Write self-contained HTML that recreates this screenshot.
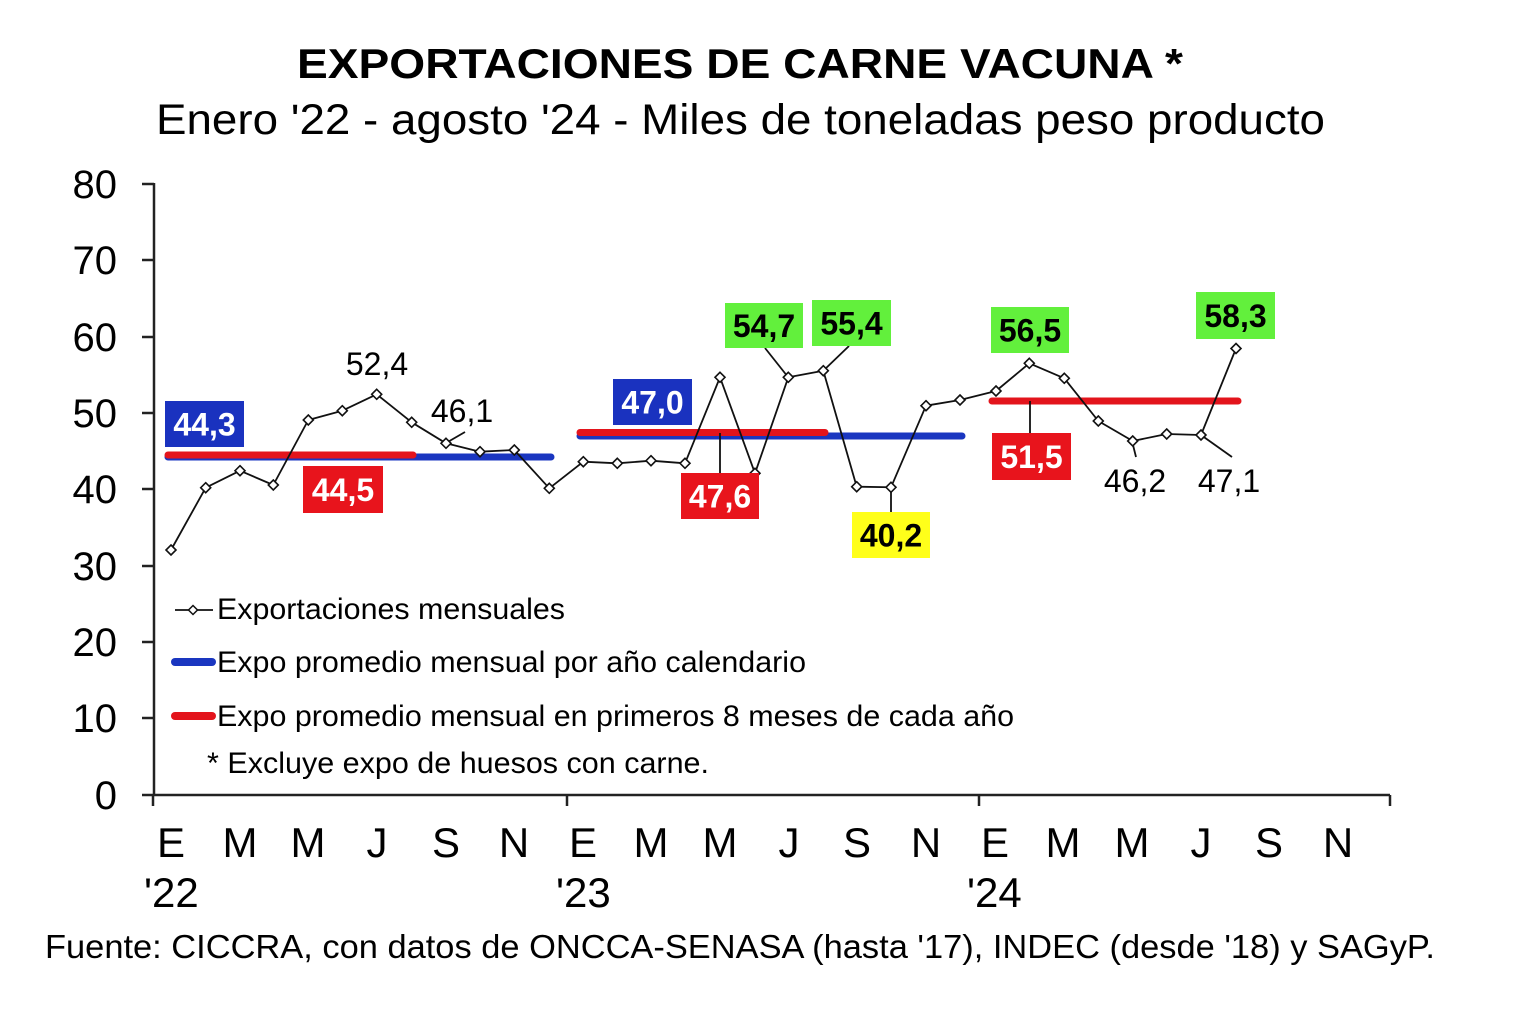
<!DOCTYPE html>
<html>
<head>
<meta charset="utf-8">
<style>
html,body{margin:0;padding:0;background:#fff;}
svg{display:block;}
text{font-family:"Liberation Sans",Arial,sans-serif;fill:#000;}
</style>
</head>
<body>
<svg width="1540" height="1021" viewBox="0 0 1540 1021" xmlns="http://www.w3.org/2000/svg">
<rect width="1540" height="1021" fill="#fff"/>

<!-- Titles -->
<text x="297" y="78" font-size="42" font-weight="bold" textLength="886" lengthAdjust="spacingAndGlyphs">EXPORTACIONES DE CARNE VACUNA *</text>
<text x="156" y="134" font-size="43" textLength="1169" lengthAdjust="spacingAndGlyphs">Enero '22 - agosto '24 - Miles de toneladas peso producto</text>

<!-- Y axis -->
<g stroke="#222" stroke-width="2.5" fill="none">
<line x1="154" y1="183" x2="154" y2="796"/>
<line x1="142" y1="184" x2="154" y2="184"/>
<line x1="142" y1="260" x2="154" y2="260"/>
<line x1="142" y1="337" x2="154" y2="337"/>
<line x1="142" y1="413" x2="154" y2="413"/>
<line x1="142" y1="489" x2="154" y2="489"/>
<line x1="142" y1="566" x2="154" y2="566"/>
<line x1="142" y1="642" x2="154" y2="642"/>
<line x1="142" y1="718" x2="154" y2="718"/>
<line x1="142" y1="795" x2="1390" y2="795"/>
<line x1="153" y1="795" x2="153" y2="806"/>
<line x1="567" y1="795" x2="567" y2="806"/>
<line x1="979" y1="795" x2="979" y2="806"/>
<line x1="1390" y1="795" x2="1390" y2="806"/>
</g>
<g font-size="40" text-anchor="end">
<text x="117" y="198">80</text>
<text x="117" y="274">70</text>
<text x="117" y="351">60</text>
<text x="117" y="427">50</text>
<text x="117" y="503">40</text>
<text x="117" y="580">30</text>
<text x="117" y="656">20</text>
<text x="117" y="732">10</text>
<text x="117" y="809">0</text>
</g>

<!-- X labels -->
<g font-size="42" text-anchor="middle">
<text x="171" y="857">E</text>
<text x="240" y="857">M</text>
<text x="308" y="857">M</text>
<text x="377" y="857">J</text>
<text x="446" y="857">S</text>
<text x="514" y="857">N</text>
<text x="583" y="857">E</text>
<text x="651" y="857">M</text>
<text x="720" y="857">M</text>
<text x="789" y="857">J</text>
<text x="857" y="857">S</text>
<text x="926" y="857">N</text>
<text x="995" y="857">E</text>
<text x="1063" y="857">M</text>
<text x="1132" y="857">M</text>
<text x="1201" y="857">J</text>
<text x="1269" y="857">S</text>
<text x="1338" y="857">N</text>
</g>
<g font-size="42">
<text x="144" y="907">'22</text>
<text x="556" y="907">'23</text>
<text x="967" y="907">'24</text>
</g>

<!-- Footer -->
<text x="45" y="958" font-size="33" textLength="1390" lengthAdjust="spacingAndGlyphs">Fuente: CICCRA, con datos de ONCCA-SENASA (hasta '17), INDEC (desde '18) y SAGyP.</text>

<!-- Average lines -->
<g stroke-linecap="round" stroke-width="7" fill="none">
<line x1="168" y1="457" x2="551" y2="457" stroke="#1a36c0"/>
<line x1="168" y1="455" x2="413" y2="455" stroke="#e3141c"/>
<line x1="580" y1="436" x2="962" y2="436" stroke="#1a36c0"/>
<line x1="580" y1="432.5" x2="825" y2="432.5" stroke="#e3141c"/>
<line x1="992" y1="401" x2="1238" y2="401" stroke="#e3141c"/>
</g>

<!-- Leaders -->
<g stroke="#111" stroke-width="1.8" fill="none">
<line x1="465" y1="432" x2="446" y2="443"/>
<line x1="720" y1="433" x2="720" y2="473"/>
<line x1="765" y1="348" x2="788" y2="377"/>
<line x1="849" y1="346" x2="823" y2="371"/>
<line x1="891" y1="487" x2="891" y2="512"/>
<line x1="1030" y1="401" x2="1030" y2="433"/>
<line x1="1132" y1="441" x2="1136" y2="457"/>
<line x1="1201" y1="435" x2="1232" y2="457"/>
</g>

<!-- Data line -->
<polyline fill="none" stroke="#111" stroke-width="1.8" stroke-linejoin="round"
points="171,550 205.7,487.7 240,470.7 273.3,485 308.3,420 342.3,410.7 376.7,394.3 411.7,422.3 446,443.3 480,451.7 514.3,450 549.3,488.3 583.3,461.7 617.3,463.3 651,460.7 685,463.3 720,377.3 755,473.3 788.3,377.3 823.3,370.7 856.7,486.7 891,487.3 926,405.7 960,400 996,391 1029.3,363.3 1064.3,378.3 1098.3,421 1132.7,441 1166.7,434 1201,435 1236,348.5"/>
<g fill="#fff" stroke="#111" stroke-width="1.6">
<path d="M171,545 l5,5 l-5,5 l-5,-5z"/>
<path d="M205.7,482.7 l5,5 l-5,5 l-5,-5z"/>
<path d="M240,465.7 l5,5 l-5,5 l-5,-5z"/>
<path d="M273.3,480 l5,5 l-5,5 l-5,-5z"/>
<path d="M308.3,415 l5,5 l-5,5 l-5,-5z"/>
<path d="M342.3,405.7 l5,5 l-5,5 l-5,-5z"/>
<path d="M376.7,389.3 l5,5 l-5,5 l-5,-5z"/>
<path d="M411.7,417.3 l5,5 l-5,5 l-5,-5z"/>
<path d="M446,438.3 l5,5 l-5,5 l-5,-5z"/>
<path d="M480,446.7 l5,5 l-5,5 l-5,-5z"/>
<path d="M514.3,445 l5,5 l-5,5 l-5,-5z"/>
<path d="M549.3,483.3 l5,5 l-5,5 l-5,-5z"/>
<path d="M583.3,456.7 l5,5 l-5,5 l-5,-5z"/>
<path d="M617.3,458.3 l5,5 l-5,5 l-5,-5z"/>
<path d="M651,455.7 l5,5 l-5,5 l-5,-5z"/>
<path d="M685,458.3 l5,5 l-5,5 l-5,-5z"/>
<path d="M720,372.3 l5,5 l-5,5 l-5,-5z"/>
<path d="M755,468.3 l5,5 l-5,5 l-5,-5z"/>
<path d="M788.3,372.3 l5,5 l-5,5 l-5,-5z"/>
<path d="M823.3,365.7 l5,5 l-5,5 l-5,-5z"/>
<path d="M856.7,481.7 l5,5 l-5,5 l-5,-5z"/>
<path d="M891,482.3 l5,5 l-5,5 l-5,-5z"/>
<path d="M926,400.7 l5,5 l-5,5 l-5,-5z"/>
<path d="M960,395 l5,5 l-5,5 l-5,-5z"/>
<path d="M996,386 l5,5 l-5,5 l-5,-5z"/>
<path d="M1029.3,358.3 l5,5 l-5,5 l-5,-5z"/>
<path d="M1064.3,373.3 l5,5 l-5,5 l-5,-5z"/>
<path d="M1098.3,416 l5,5 l-5,5 l-5,-5z"/>
<path d="M1132.7,436 l5,5 l-5,5 l-5,-5z"/>
<path d="M1166.7,429 l5,5 l-5,5 l-5,-5z"/>
<path d="M1201,430 l5,5 l-5,5 l-5,-5z"/>
<path d="M1236,343.5 l5,5 l-5,5 l-5,-5z"/>
</g>

<!-- Plain data labels -->
<g font-size="32" text-anchor="middle">
<text x="377" y="375">52,4</text>
<text x="462" y="422">46,1</text>
<text x="1135" y="492">46,2</text>
<text x="1229" y="492">47,1</text>
</g>

<!-- Boxed labels -->
<rect x="165" y="401" width="79" height="46" fill="#1a32bf"/>
<rect x="303" y="466" width="80" height="47" fill="#e8141c"/>
<rect x="613" y="379" width="79" height="46" fill="#1a32bf"/>
<rect x="681" y="473" width="78" height="46" fill="#e8141c"/>
<rect x="725" y="303" width="78" height="45" fill="#62f03c"/>
<rect x="812" y="300" width="79" height="46" fill="#62f03c"/>
<rect x="852" y="512" width="78" height="46" fill="#ffff1a"/>
<rect x="991" y="307" width="78" height="46" fill="#62f03c"/>
<rect x="992" y="433" width="79" height="47" fill="#e8141c"/>
<rect x="1196" y="292" width="79" height="47" fill="#62f03c"/>
<g font-size="32" font-weight="bold" text-anchor="middle">
<text x="204.5" y="435.5" fill="#fff" style="fill:#fff">44,3</text>
<text x="343" y="501" style="fill:#fff">44,5</text>
<text x="652.5" y="413.5" style="fill:#fff">47,0</text>
<text x="720" y="507.5" style="fill:#fff">47,6</text>
<text x="764" y="337">54,7</text>
<text x="851.5" y="334.5">55,4</text>
<text x="891" y="546.5">40,2</text>
<text x="1030" y="341.5">56,5</text>
<text x="1031.5" y="468" style="fill:#fff">51,5</text>
<text x="1235.5" y="327">58,3</text>
</g>

<!-- Legend -->
<line x1="175" y1="610" x2="213" y2="610" stroke="#111" stroke-width="1.8"/>
<path d="M193,605.5 l4.5,4.5 l-4.5,4.5 l-4.5,-4.5z" fill="#fff" stroke="#111" stroke-width="1.5"/>
<line x1="175" y1="662" x2="212" y2="662" stroke="#1a36c0" stroke-width="8" stroke-linecap="round"/>
<line x1="175" y1="716" x2="212" y2="716" stroke="#e3141c" stroke-width="8" stroke-linecap="round"/>
<g font-size="30">
<text x="217" y="619" textLength="348" lengthAdjust="spacingAndGlyphs">Exportaciones mensuales</text>
<text x="217" y="672" textLength="589" lengthAdjust="spacingAndGlyphs">Expo promedio mensual por año calendario</text>
<text x="217" y="726" textLength="797" lengthAdjust="spacingAndGlyphs">Expo promedio mensual en primeros 8 meses de cada año</text>
<text x="207" y="773" textLength="502" lengthAdjust="spacingAndGlyphs">* Excluye expo de huesos con carne.</text>
</g>
</svg>
</body>
</html>
